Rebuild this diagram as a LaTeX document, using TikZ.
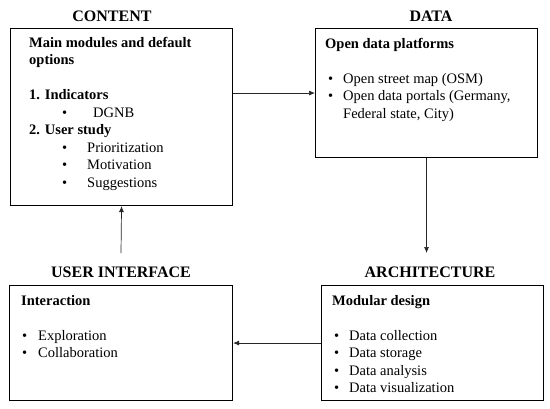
\documentclass[tikz,border=0pt]{standalone}
\usepackage{fontspec}
\setmainfont{Liberation Serif}
\usepackage{tikz}
\usetikzlibrary{positioning, arrows.meta}
\newcommand{\pkt}[1]{\makebox[#1][l]{\textbullet}}

\begin{document}
\begin{tikzpicture}
	[
	x=1pt, y=-1pt, >={Latex[length=6pt, width=5pt]},
	%Voreinstellungen
	kasten/.style={draw, line width=1.1pt, anchor=north west, inner sep=0pt},
	titel/.style={font=\fontsize{16}{19}\selectfont\bfseries, inner sep=0pt, anchor=base},
	inhalt/.style={font=\fontsize{14.5}{17.5}\selectfont, align=left, inner sep=0pt, anchor=north west},
	pfeil/.style={->, line width=0.7pt, black!85}
	]
	\useasboundingbox (0,0) rectangle (550,408);
	%Kästen
	\node[kasten, minimum width=222pt, minimum height=177pt] (content) at (10,28) {};
	\node[kasten, minimum width=222pt, minimum height=129pt] (data) at (315,28) {};
	\node[kasten, minimum width=223pt, minimum height=115pt] (ui) at (9,285) {};
	\node[kasten, minimum width=222pt, minimum height=115pt] (arch) at (321,285) {};
	%Überschriften
	\node[titel] (contenttitel) at (112,21) {CONTENT};
	\node[titel] (datatitel) at (431,21) {DATA};
	\node[titel] (uititel) at (121,277) {USER INTERFACE};
	\node[titel] (archtitel) at (430,277) {ARCHITECTURE};
	%Texte
	\node[inhalt] (contenttext) at ([xshift=19pt, yshift=-6.75pt]content.north west)
		{\strut\textbf{Main modules and default}\\ \textbf{options}\\[17.5pt]
		\textbf{1. Indicators}\\ \hspace*{33pt}\pkt{31pt}DGNB\\
		\textbf{2. User study}\\ \hspace*{33pt}\pkt{25pt}Prioritization\\
		\hspace*{33pt}\pkt{25pt}Motivation\\ \hspace*{33pt}\pkt{25pt}Suggestions};
	\node[inhalt] (datatext) at ([xshift=10pt, yshift=-7.75pt]data.north west)
		{\strut\textbf{Open data platforms}\\[17.5pt]
		\hspace*{3pt}\pkt{15pt}Open street map (OSM)\\
		\hspace*{3pt}\pkt{15pt}Open data portals (Germany,\\
		\hspace*{18pt}Federal state, City)};
	\node[inhalt] (uitext) at ([xshift=12pt, yshift=-7.75pt]ui.north west)
		{\strut\textbf{Interaction}\\[17.5pt]
		\hspace*{1pt}\pkt{16pt}Exploration\\ \hspace*{1pt}\pkt{16pt}Collaboration};
	\node[inhalt] (archtext) at ([xshift=11pt, yshift=-7.75pt]arch.north west)
		{\strut\textbf{Modular design}\\[17.5pt]
		\hspace*{2pt}\pkt{15pt}Data collection\\ \hspace*{2pt}\pkt{15pt}Data storage\\
		\hspace*{2pt}\pkt{15pt}Data analysis\\ \hspace*{2pt}\pkt{15pt}Data visualization};
	%Pfeile
	\coordinate (archoben) at (427,253);
	\coordinate (uioben) at (121,253);
	\draw[pfeil] (content.east |- data.west) -- (data.west);
	\draw[pfeil] (data.south) -- (data.south |- archoben);
	\draw[pfeil] (arch.west) -- (ui.east);
	\draw[pfeil] (uioben) -- (content.south);
\end{tikzpicture}
\end{document}
